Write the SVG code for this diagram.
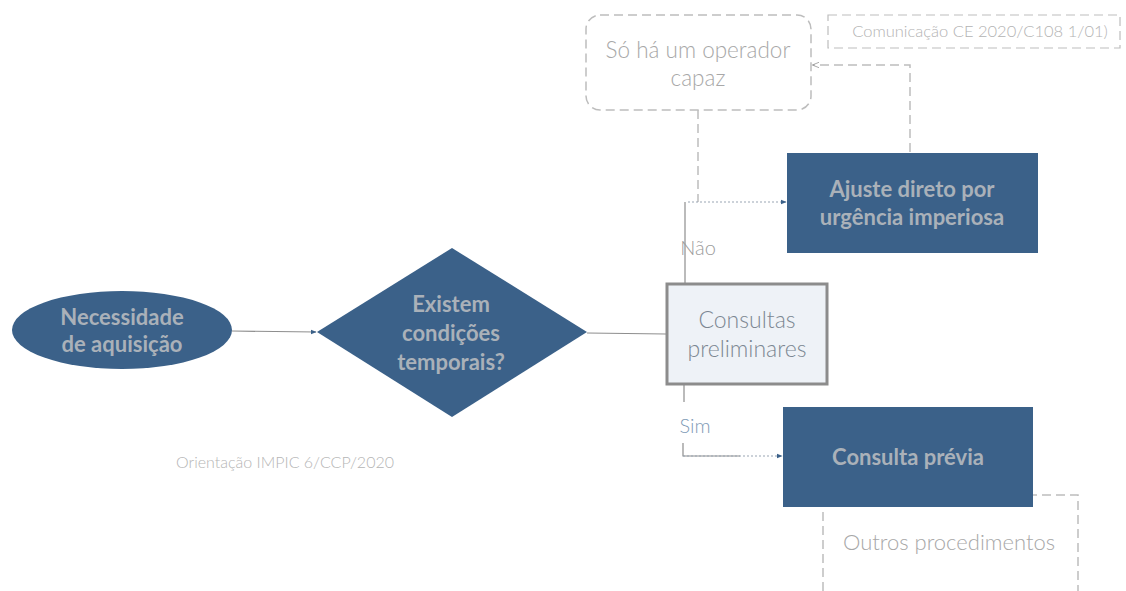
<svg xmlns="http://www.w3.org/2000/svg" width="1126" height="591" viewBox="0 0 1126 591">
<defs>
<style>
.dark{fill:#3b6189;}
.dtxt{font-family:Lato,"Open Sans",sans-serif;font-weight:bold;font-size:22px;fill:#aab1b9;text-anchor:middle;}
.ltxt{font-family:Lato,"Open Sans",sans-serif;font-weight:300;fill:#a8a8a8;text-anchor:middle;}
.dash{fill:none;stroke:#bdbdbd;stroke-width:1.5;stroke-dasharray:9 5;}
.solid{fill:none;stroke:#8e8e8e;stroke-width:1.2;}
.dot{fill:none;stroke:#9aa6b3;stroke-width:1.2;stroke-dasharray:2 2;}
</style>
<marker id="arrB" viewBox="0 0 10 10" refX="9" refY="5" markerWidth="6" markerHeight="6" orient="auto" markerUnits="userSpaceOnUse">
<path d="M0,1 L10,5 L0,9 z" fill="#3b6189"/>
</marker>
<marker id="arrG" viewBox="0 0 10 10" refX="9" refY="5" markerWidth="7" markerHeight="7" orient="auto" markerUnits="userSpaceOnUse">
<path d="M0,1 L10,5 L0,9" fill="none" stroke="#9a9a9a" stroke-width="1.2"/>
</marker>
</defs>
<rect width="1126" height="591" fill="#ffffff"/>

<g id="connectors">
<line class="solid" x1="232" y1="331" x2="316" y2="332" marker-end="url(#arrB)"/>
<line class="solid" x1="587" y1="333" x2="666" y2="334"/>
<path class="solid" d="M685,283 V202"/>
<path class="dash" d="M698,110 V202"/>
<path class="dot" d="M688,202 H786" marker-end="url(#arrB)"/>
<path class="solid" d="M684,385 V402"/>
<path class="solid" d="M683,443 V456 H740"/>
<path class="dot" d="M683,456 H782" marker-end="url(#arrB)"/>
<path class="dash" d="M910,152 V65 H813" marker-end="url(#arrG)"/>
</g>

<g id="outros">
<path class="dash" d="M1000,495 H1078 V591 M823,591 V495 H1000"/>
<text class="ltxt" x="949" y="550" font-size="22">Outros procedimentos</text>
</g>

<g id="necessidade">
<ellipse class="dark" cx="122" cy="330" rx="110" ry="39"/>
<text class="dtxt" x="122" y="325">Necessidade</text>
<text class="dtxt" x="122" y="352">de aquisição</text>
</g>

<g id="existem">
<polygon class="dark" points="317,332 452,248 587,332 452,417"/>
<text class="dtxt" x="451" y="312">Existem</text>
<text class="dtxt" x="451" y="341">condições</text>
<text class="dtxt" x="451" y="370">temporais?</text>
</g>

<g id="consultas">
<rect x="667" y="284" width="160" height="100" fill="#eef2f7" stroke="#8c8c8c" stroke-width="3"/>
<text class="ltxt" x="747" y="328" font-size="23" style="fill:#7c8792">Consultas</text>
<text class="ltxt" x="747" y="357" font-size="23" style="fill:#7c8792">preliminares</text>
</g>

<g id="ajuste">
<rect class="dark" x="787" y="153" width="251" height="100"/>
<text class="dtxt" x="912" y="197">Ajuste direto por</text>
<text class="dtxt" x="912" y="225">urgência imperiosa</text>
</g>

<g id="previa">
<rect class="dark" x="783" y="407" width="250" height="100"/>
<text class="dtxt" x="908" y="465">Consulta prévia</text>
</g>

<g id="so-ha">
<rect class="dash" x="586" y="15" width="225" height="95" rx="14"/>
<text class="ltxt" x="698" y="58" font-size="22.5">Só há um operador</text>
<text class="ltxt" x="698" y="86" font-size="22.5">capaz</text>
</g>

<g id="comunicacao">
<rect class="dash" x="828" y="15" width="292" height="33" style="stroke-width:1.2"/>
<text class="ltxt" x="980" y="37" font-size="16.5" style="fill:#b3b3b3">Comunicação CE 2020/C108 1/01)</text>
</g>

<g id="labels">
<text class="ltxt" x="698" y="255" font-size="20" style="fill:#9c9c9c">Não</text>
<text class="ltxt" x="695" y="433" font-size="20" style="fill:#7f9bb6">Sim</text>
<text class="ltxt" x="285" y="468" font-size="16" style="fill:#b5b5b5">Orientação IMPIC 6/CCP/2020</text>
</g>
</svg>
